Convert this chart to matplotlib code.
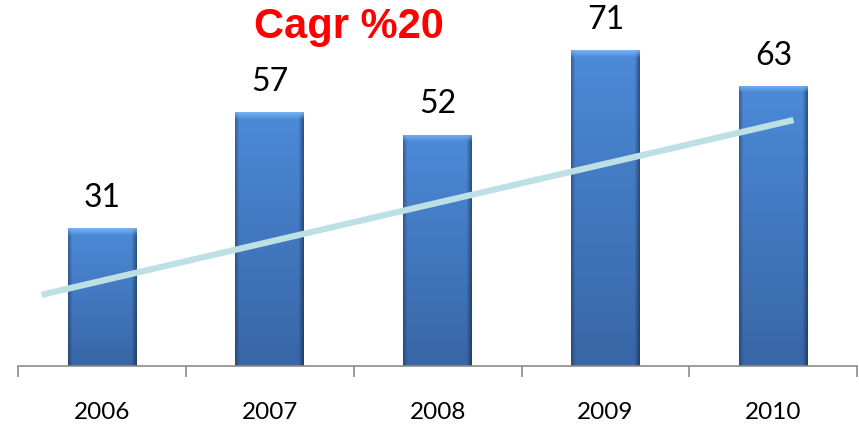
import numpy as np
import matplotlib
matplotlib.use('Agg')
import matplotlib.pyplot as plt

# Datos del gráfico
years = ['2006', '2007', '2008', '2009', '2010']
values = [31, 57, 52, 71, 63]
trend_x = [-0.36, 4.12]
trend_y = [16, 55.3]
title = 'Cagr %20'

fig = plt.figure(figsize=(8.59, 4.26), dpi=100)
ax = fig.add_axes([0.021, 0.141, 0.977, 0.835])

x = np.arange(len(years))
bars = ax.bar(x, values, width=0.41, color='#4477c0', zorder=2)

ax.set_xlim(-0.5, 4.5)
ax.set_ylim(0, 80)

# Degradado de cada barra (efecto biselado)
top = np.array([0x4c, 0x8a, 0xd8]) / 255
bot = np.array([0x38, 0x66, 0xa6]) / 255
bevel = np.array([0x7c, 0xb8, 0xf6]) / 255
px_per_unit = 0.835 * 426 / 80
for b in bars:
    h = b.get_height()
    nrows = max(int(h * px_per_unit), 10)
    ncols = 69
    t = np.linspace(0, 1, nrows)[:, None]
    img = top * (1 - t[..., None]) + bot * t[..., None]
    img = np.broadcast_to(img, (nrows, ncols, 3)).copy()
    # bordes laterales más oscuros
    edge = np.ones(ncols)
    edge[:5] = np.linspace(0.72, 1, 5)
    edge[-6:] = np.linspace(1, 0.62, 6)
    img *= edge[None, :, None]
    # bisel superior
    for r in range(7):
        a = 1 - r / 7
        img[r] = img[r] * (1 - a * 0.85) + bevel * a * 0.85
    im = ax.imshow(np.clip(img, 0, 1), extent=[b.get_x(), b.get_x() + b.get_width(), 0, h],
                   aspect='auto', origin='upper', zorder=2, interpolation='bilinear')
    im.set_clip_path(b)

for xi, v in zip(x, values):
    ax.text(xi, v + 6.8, str(v), ha='center', va='center', fontsize=23,
            family='Lato', color='black')

ax.plot(trend_x, trend_y, color='#bde0e4', linewidth=4.5, solid_capstyle='butt', zorder=3)

ax.text(1.47, 76.3, title, ha='center', va='center', fontsize=30, fontweight='bold',
        family='Liberation Sans', color='#ff0000')

for s in ['top', 'right', 'left']:
    ax.spines[s].set_visible(False)
ax.spines['bottom'].set_color('#8c8c8c')
ax.spines['bottom'].set_linewidth(1.2)
ax.set_yticks([])
ax.set_xticks(np.arange(-0.5, 5, 1))
ax.set_xticklabels([])
ax.tick_params(axis='x', direction='out', length=8, width=1.2, color='#8c8c8c')
ax.set_xticks(x, minor=True)
ax.set_xticklabels(years, minor=True, fontsize=17.5, family='Lato')
ax.tick_params(axis='x', which='minor', length=0, pad=26)

fig.savefig('out.png', dpi=100)
